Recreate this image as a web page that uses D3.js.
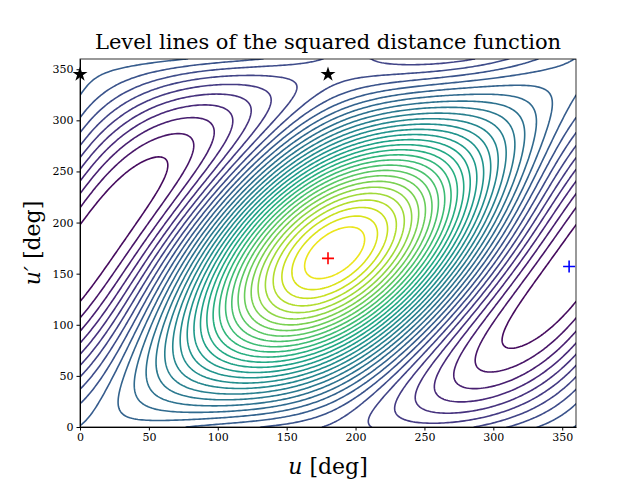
<!DOCTYPE html>
<html><head><meta charset="utf-8">
<script src="https://cdn.jsdelivr.net/npm/d3@7"></script>
<style>body{margin:0;background:#fff}</style>
</head><body>
<svg id="chart" width="640" height="480"></svg>
<script>
// orbit parameters (read by tuning against the picture)
const orbit1 = {a: 1.5, e: 0.3};
const orbit2 = {a: 0.8, e: 0.3, omega: 195, inc: 12};
const ticks = [0, 50, 100, 150, 200, 250, 300, 350];
const maxPt = [[180, 165]];
const minPt = [[355, 157]];
const saddles = [[0, 345], [180, 345]];
const nLevels = 34;

const rad = Math.PI / 180;
function d2(u, v) {
  const x1 = orbit1.a * (Math.cos(u * rad) - orbit1.e);
  const y1 = orbit1.a * Math.sqrt(1 - orbit1.e ** 2) * Math.sin(u * rad);
  let px = orbit2.a * (Math.cos(v * rad) - orbit2.e);
  let py = orbit2.a * Math.sqrt(1 - orbit2.e ** 2) * Math.sin(v * rad);
  const w = orbit2.omega * rad, I = orbit2.inc * rad;
  let qx = px * Math.cos(w) - py * Math.sin(w);
  let qy = px * Math.sin(w) + py * Math.cos(w);
  const x2 = qx, y2 = qy * Math.cos(I), z2 = qy * Math.sin(I);
  return (x1 - x2) ** 2 + (y1 - y2) ** 2 + z2 ** 2;
}

const n = 241, step = 360 / (n - 1);
const grid = new Array(n * n);
for (let j = 0; j < n; j++)
  for (let i = 0; i < n; i++) grid[j * n + i] = d2(i * step, j * step);

const margin = {left: 80, right: 64, top: 59, bottom: 53};
const W = 640, H = 480;
const svg = d3.select("#chart");
const x = d3.scaleLinear().domain([0, 360]).range([margin.left, W - margin.right]);
const y = d3.scaleLinear().domain([0, 360]).range([H - margin.bottom, margin.top]);

const [lo, hi] = d3.extent(grid);
const thresholds = d3.range(1, nLevels + 1).map(k => lo + (hi - lo) * k / (nLevels + 1));
const color = d3.scaleSequential(d3.interpolateViridis).domain([lo, hi]);
const contours = d3.contours().size([n, n]).smooth(true).thresholds(thresholds)(grid);

svg.append("clipPath").attr("id", "clip").append("rect")
  .attr("x", margin.left).attr("y", margin.top)
  .attr("width", W - margin.left - margin.right).attr("height", H - margin.top - margin.bottom);

const proj = d3.geoTransform({point: function (px, py) {
  this.stream.point(x((px - 0.5) * step), y((py - 0.5) * step));
}});
svg.append("g").attr("clip-path", "url(#clip)").selectAll("path").data(contours).join("path")
  .attr("d", d3.geoPath(proj)).attr("fill", "none")
  .attr("stroke", d => color(d.value)).attr("stroke-width", 1.6);

const font = "'DejaVu Serif', serif";
svg.append("g").attr("transform", `translate(0,${H - margin.bottom})`)
  .call(d3.axisBottom(x).tickValues(ticks).tickSize(3.5).tickSizeOuter(0))
  .call(g => g.selectAll("text").attr("font-family", font).attr("font-size", 11));
svg.append("g").attr("transform", `translate(${margin.left},0)`)
  .call(d3.axisLeft(y).tickValues(ticks).tickSize(3.5).tickSizeOuter(0))
  .call(g => g.selectAll("text").attr("font-family", font).attr("font-size", 11));
svg.append("rect").attr("x", margin.left).attr("y", margin.top)
  .attr("width", W - margin.left - margin.right).attr("height", H - margin.top - margin.bottom)
  .attr("fill", "none").attr("stroke", "#000").attr("stroke-width", 0.8);

svg.append("text").attr("x", (margin.left + W - margin.right) / 2).attr("y", 49)
  .attr("text-anchor", "middle").attr("font-family", font).attr("font-size", 21)
  .text("Level lines of the squared distance function");
const xl = svg.append("text").attr("x", (margin.left + W - margin.right) / 2).attr("y", 474)
  .attr("text-anchor", "middle").attr("font-family", font).attr("font-size", 22);
xl.append("tspan").attr("font-style", "italic").text("u");
xl.append("tspan").text(" [deg]");
const yl = svg.append("text").attr("transform", `translate(40,${(margin.top + H - margin.bottom) / 2}) rotate(-90)`)
  .attr("text-anchor", "middle").attr("font-family", font).attr("font-size", 22);
yl.append("tspan").attr("font-style", "italic").text("u′");
yl.append("tspan").text(" [deg]");

const plus = d3.symbol().type(d3.symbolCross);
function cross(pts, c) {
  svg.selectAll(null).data(pts).join("path")
    .attr("d", d => `M${x(d[0]) - 6},${y(d[1])}H${x(d[0]) + 6}M${x(d[0])},${y(d[1]) - 6}V${y(d[1]) + 6}`)
    .attr("stroke", c).attr("stroke-width", 1.6);
}
cross(maxPt, "red");
cross(minPt, "blue");
svg.selectAll(null).data(saddles).join("path")
  .attr("d", d3.symbol().type(d3.symbolStar).size(70))
  .attr("transform", d => `translate(${x(d[0])},${y(d[1])})`).attr("fill", "#000");
</script>
</body></html>
